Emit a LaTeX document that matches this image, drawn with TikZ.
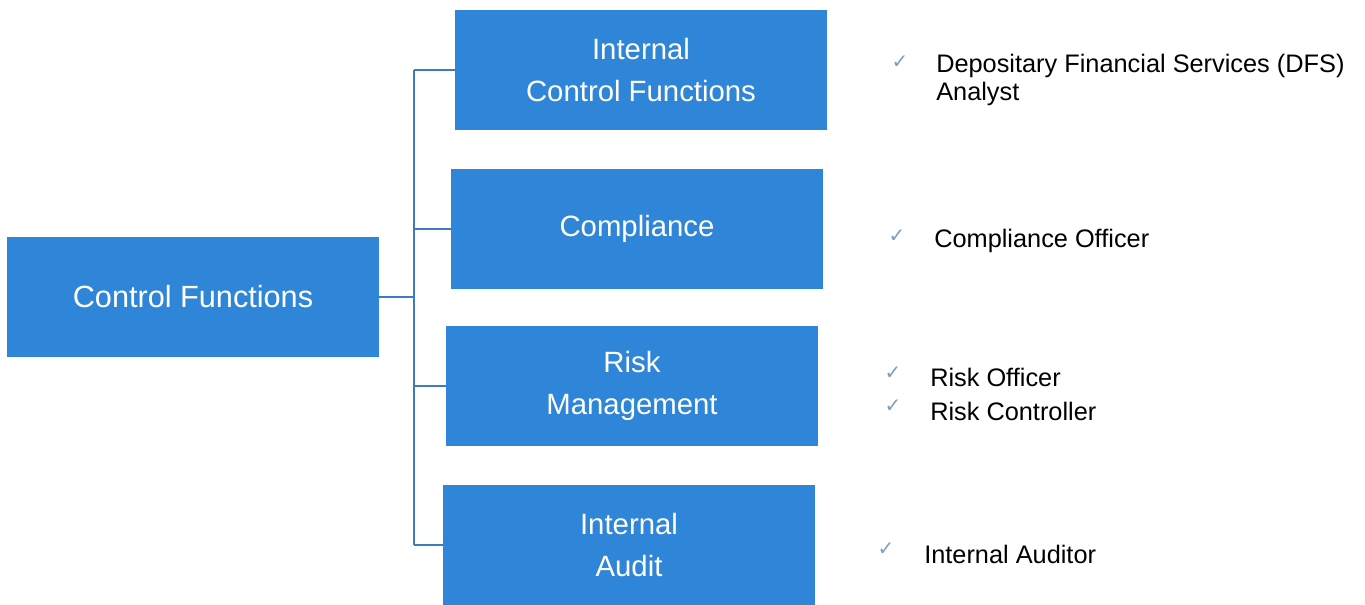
\documentclass[tikz,border=0pt]{standalone}
\usepackage{fontspec}
\setmainfont{Liberation Sans}
\newfontfamily\symfont{DejaVu Sans}
\definecolor{boxblue}{HTML}{2F86D8}
\definecolor{linkblue}{HTML}{3B7CC0}
\definecolor{tickcol}{HTML}{7F9CC4}
\begin{document}
\begin{tikzpicture}[x=0.75pt,y=-0.75pt,
  box/.style={fill=boxblue, text=white, minimum width=279pt, minimum height=90pt,
    inner sep=0pt, align=center, font=\fontsize{22}{31}\selectfont},
  link/.style={draw=linkblue, line width=1.3pt},
  tickmark/.style={text=tickcol, inner sep=0pt, font=\symfont\fontsize{15}{15}\selectfont},
  item/.style={anchor=west, inner sep=0pt, align=left, text=black, font=\fontsize{19}{20.5}\selectfont}]
\useasboundingbox (0,0) rectangle (1365,605);
\node[box, font=\fontsize{23}{31}\selectfont] (cf) at (193,297) {Control Functions};
\node[box] (ics) at (641,70) {Internal\\Control Functions};
\node[box] (cp) at (637,229) {Compliance};
\node[box] (rm) at (632,386) {Risk\\Management};
\node[box] (ia) at (629,545) {Internal\\Audit};
\coordinate (jt) at (414,70);
\coordinate (jb) at (414,545);
\draw[link] (cf.east) -- (cf.east -| jt);
\draw[link] (jt) -- (jb);
\draw[link] (jt) -- (ics.west);
\draw[link] (jt |- cp.west) -- (cp.west);
\draw[link] (jt |- rm.west) -- (rm.west);
\draw[link] (jb) -- (ia.west);
\node[tickmark] (t1) at (900,62) {✓};
\node[item] (l1) at (936,80) {Depositary Financial Services (DFS)\\Analyst};
\node[tickmark] (t2) at (897,236) {✓};
\node[item] (l2) at (934,241) {Compliance Officer};
\node[tickmark] (t3) at (893,373) {✓};
\node[item] (l3) at (930,377) {Risk Officer};
\node[tickmark] (t4) at (893,406) {✓};
\node[item] (l4) at (930,411) {Risk Controller};
\node[tickmark] (t5) at (886,549) {✓};
\node[item] (l5) at (924,554) {Internal Auditor};
\end{tikzpicture}
\end{document}
